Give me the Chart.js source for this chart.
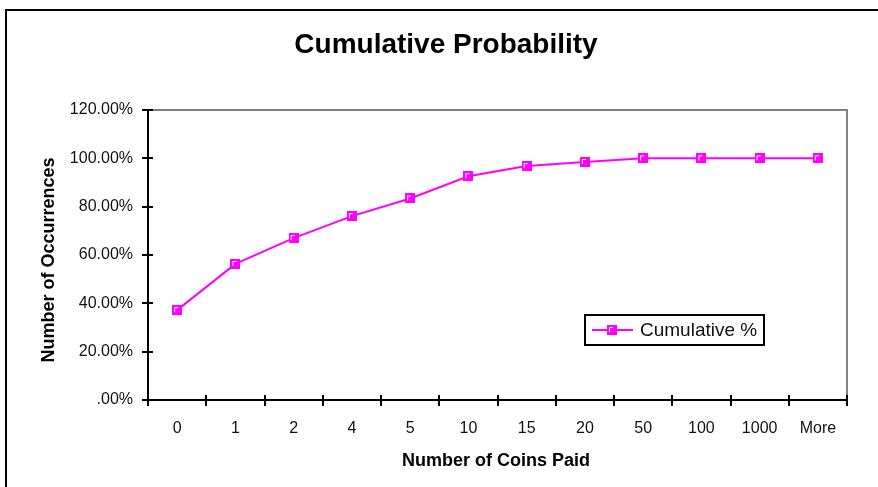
<!DOCTYPE html>
<html>
<head>
<meta charset="utf-8">
<title>Cumulative Probability</title>
<script src="https://cdn.jsdelivr.net/npm/chart.js@4.4.1/dist/chart.umd.min.js"></script>
<style>
  html, body { margin: 0; padding: 0; background: #ffffff; }
  #wrap { width: 878px; height: 487px; }
</style>
</head>
<body>
<div id="wrap"><canvas id="chart" width="878" height="487"></canvas></div>
<script>
// Coins paid buckets and cumulative share of occurrences (%)
const coinBuckets = ['0', '1', '2', '4', '5', '10', '15', '20', '50', '100', '1000', 'More'];
const cumulativePct = [37.2, 56.3, 67.0, 76.1, 83.4, 92.6, 96.8, 98.5, 100, 100, 100, 100];
const seriesLabel = 'Cumulative %';
const chartTitle = 'Cumulative Probability';
const yAxisTitle = 'Number of Occurrences';
const xAxisTitle = 'Number of Coins Paid';

const FONT = '"Liberation Sans", Arial, Helvetica, sans-serif';
const MAGENTA = '#ff00ff';

// Square marker with a small white inner corner
function makeMarker() {
  const c = document.createElement('canvas');
  c.width = 10; c.height = 10;
  const g = c.getContext('2d');
  g.fillStyle = MAGENTA;
  g.fillRect(0, 0, 10, 10);
  g.fillStyle = '#ffffff';
  g.fillRect(2, 2, 4, 1);
  g.fillRect(2, 2, 1, 5);
  return c;
}
const marker = makeMarker();

const decorations = {
  id: 'decorations',
  beforeDraw(chart) {
    const ctx = chart.ctx;
    ctx.save();
    ctx.fillStyle = '#ffffff';
    ctx.fillRect(0, 0, chart.width, chart.height);
    ctx.restore();
  },
  beforeDatasetsDraw(chart) {
    const { ctx, chartArea: a } = chart;
    ctx.save();
    // plot frame: grey top and right edges
    ctx.strokeStyle = '#808080';
    ctx.lineWidth = 2;
    ctx.beginPath();
    ctx.moveTo(a.left, a.top);
    ctx.lineTo(a.right, a.top);
    ctx.lineTo(a.right, a.bottom);
    ctx.stroke();

    // tick marks crossing the axes
    ctx.strokeStyle = '#000000';
    ctx.lineWidth = 2;
    const ys = chart.scales.y;
    ys.ticks.forEach((t, i) => {
      const py = Math.round(ys.getPixelForTick(i));
      ctx.beginPath();
      ctx.moveTo(a.left - 6, py);
      ctx.lineTo(a.left + 5, py);
      ctx.stroke();
    });
    const xs = chart.scales.x;
    for (let i = 0; i <= coinBuckets.length; i++) {
      const px = Math.round(xs.getPixelForValue(i - 0.5));
      ctx.beginPath();
      ctx.moveTo(px, a.bottom - 5);
      ctx.lineTo(px, a.bottom + 6);
      ctx.stroke();
    }
    ctx.restore();
  },
  afterDraw(chart) {
    const { ctx } = chart;
    ctx.save();
    // outer frame
    ctx.strokeStyle = '#000000';
    ctx.lineWidth = 2;
    ctx.strokeRect(6, 10, 900, 500);

    // titles
    ctx.fillStyle = '#000000';
    ctx.textAlign = 'center';
    ctx.textBaseline = 'middle';
    ctx.font = 'bold 28px ' + FONT;
    ctx.fillText(chartTitle, 446, 45);
    ctx.font = 'bold 18px ' + FONT;
    ctx.fillText(xAxisTitle, 496, 461);
    ctx.save();
    ctx.translate(49, 260);
    ctx.rotate(-Math.PI / 2);
    ctx.fillText(yAxisTitle, 0, 0);
    ctx.restore();

    // legend box
    const ds = chart.data.datasets[0];
    ctx.lineWidth = 2;
    ctx.strokeStyle = '#000000';
    ctx.strokeRect(585, 315, 179, 30);
    ctx.strokeStyle = ds.borderColor;
    ctx.lineWidth = 2;
    ctx.beginPath();
    ctx.moveTo(592, 330);
    ctx.lineTo(633, 330);
    ctx.stroke();
    ctx.drawImage(marker, 607, 325);
    ctx.fillStyle = '#111111';
    ctx.textAlign = 'left';
    ctx.font = '19px ' + FONT;
    ctx.fillText(ds.label, 640, 331);
    ctx.restore();
  }
};

new Chart(document.getElementById('chart'), {
  type: 'line',
  data: {
    labels: coinBuckets,
    datasets: [{
      label: seriesLabel,
      data: cumulativePct,
      borderColor: MAGENTA,
      backgroundColor: MAGENTA,
      borderWidth: 2,
      pointStyle: marker,
      tension: 0,
      fill: false,
      clip: false
    }]
  },
  options: {
    responsive: false,
    animation: false,
    events: [],
    layout: { padding: { top: 110, left: 0, right: 31, bottom: 0 } },
    plugins: {
      legend: { display: false },
      title: { display: false },
      tooltip: { enabled: false }
    },
    scales: {
      x: {
        type: 'category',
        offset: true,
        grid: { display: false, drawTicks: false },
        border: { display: true, color: '#000000', width: 2 },
        ticks: {
          color: '#111111',
          font: { family: FONT, size: 16 },
          padding: 19,
          maxRotation: 0,
          autoSkip: false
        },
        afterFit(scale) { scale.height = 87; }
      },
      y: {
        min: 0,
        max: 120,
        grid: { display: false, drawTicks: false },
        border: { display: true, color: '#000000', width: 2 },
        ticks: {
          stepSize: 20,
          color: '#111111',
          font: { family: FONT, size: 16 },
          padding: 15,
          callback: v => (v === 0 ? '.00%' : v.toFixed(2) + '%')
        },
        afterFit(scale) { scale.width = 148; }
      }
    }
  },
  plugins: [decorations]
});
</script>
</body>
</html>
